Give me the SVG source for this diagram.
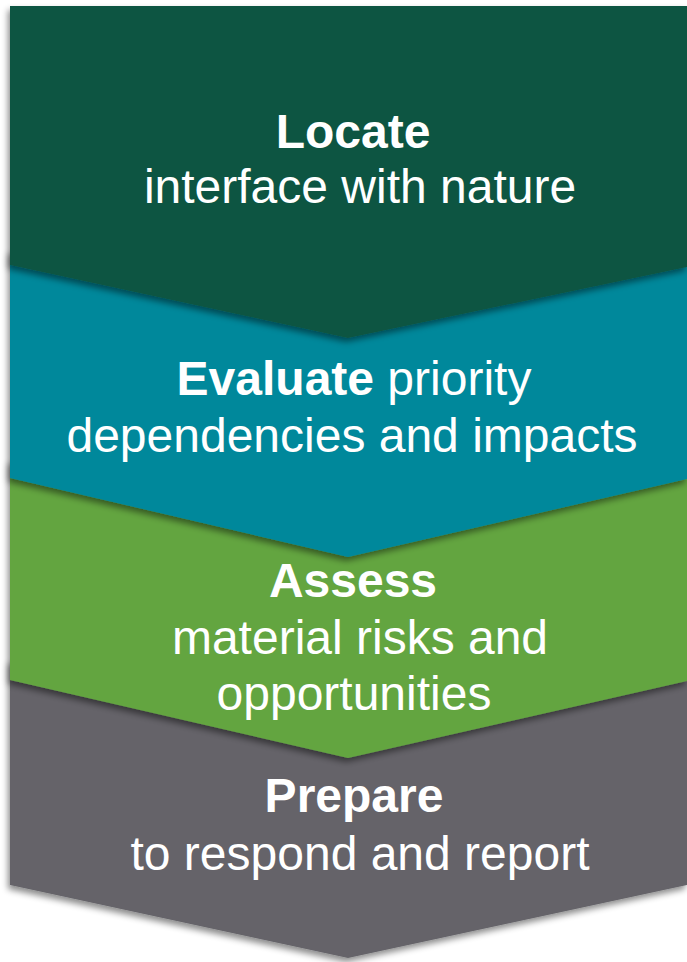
<svg xmlns="http://www.w3.org/2000/svg" width="687" height="962" viewBox="0 0 687 962">
  <defs>
    <filter id="shade" x="-10%" y="-10%" width="120%" height="125%">
      <feDropShadow dx="-2" dy="4" stdDeviation="3" flood-color="#000" flood-opacity="0.45"/>
    </filter>
  </defs>
  <style>
    .step { filter: url(#shade); }
    .label { font-family: "Liberation Sans", Arial, sans-serif; font-size: 48px; fill: #ffffff; text-anchor: middle; }
    .bold { font-weight: bold; }
  </style>
  <rect width="687" height="962" fill="#ffffff"/>

  <!-- bottom chevron first so each upper one casts its shadow onto the next -->
  <g id="prepare">
    <path class="step" fill="#656469" d="M10,660 H687 V885 L348,958 L10,885 Z"/>
    <text class="label bold" x="354" y="812">Prepare</text>
    <text class="label" x="360" y="870">to respond and report</text>
  </g>

  <g id="assess">
    <path class="step" fill="#63A541" d="M10,460 H687 V681 L348,758 L10,680 Z"/>
    <text class="label bold" x="353" y="597">Assess</text>
    <text class="label" x="360" y="654">material risks and</text>
    <text class="label" x="354" y="710">opportunities</text>
  </g>

  <g id="evaluate">
    <path class="step" fill="#00889B" d="M10,250 H687 V479 L348,557 L10,478 Z"/>
    <text class="label" x="354" y="395"><tspan class="bold">Evaluate</tspan> priority</text>
    <text class="label" x="352" y="452">dependencies and impacts</text>
  </g>

  <g id="locate">
    <path class="step" fill="#115443" d="M10,6 H687 V267 L348,338 L10,265 Z"/>
    <text class="label bold" x="353" y="148">Locate</text>
    <text class="label" x="360" y="203">interface with nature</text>
  </g>

  <g id="connectors"/>
</svg>
